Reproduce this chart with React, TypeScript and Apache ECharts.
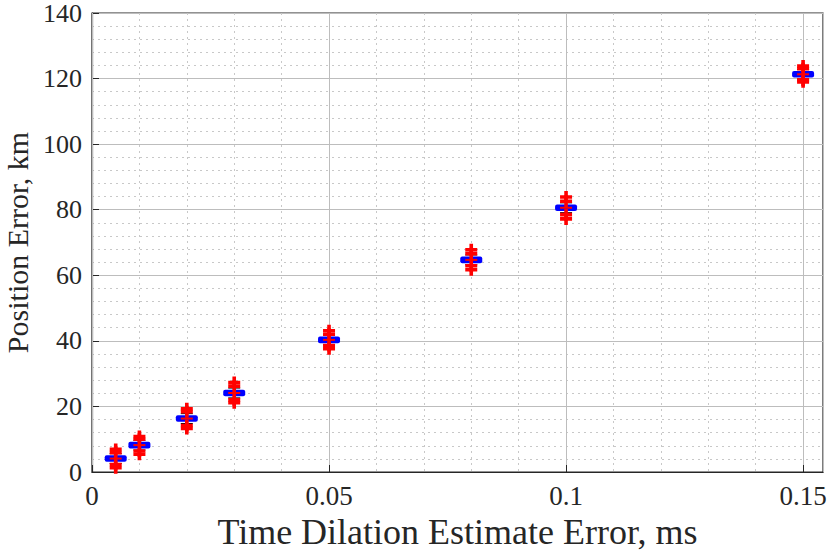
import React, { useEffect, useRef } from "react";
import * as echarts from "echarts";

const xs = [0.005, 0.01, 0.02, 0.03, 0.05, 0.08, 0.1, 0.15];
const medians = [4.1, 8.2, 16.3, 24.1, 40.3, 64.7, 80.6, 121.3];
const q1s = [3.1, 7.2, 15.3, 23.1, 39.3, 63.7, 79.6, 120.3];
const q3s = [5.1, 9.2, 17.3, 25.1, 41.3, 65.7, 81.6, 122.3];
const whiskLow = [2.6, 6.7, 14.8, 22.6, 38.8, 63.2, 79.1, 119.8];
const whiskHigh = [5.6, 9.7, 17.8, 25.6, 41.8, 66.2, 82.1, 122.8];
const outHighA = [5.9, 10.0, 18.4, 26.2, 42.0, 66.6, 82.6, 123.0];
const outHighB = [6.9, 10.8, 19.3, 27.3, 43.1, 67.8, 83.9, 123.8];
const outLowA = [2.3, 6.4, 14.2, 22.0, 38.6, 62.9, 78.5, 119.6];
const outLowB = [1.3, 5.4, 13.3, 21.1, 37.6, 61.7, 77.2, 119.0];

const xTickLabels = ["0", "0.05", "0.1", "0.15"];
const xTickValues = [0, 0.05, 0.1, 0.15];

const FONT = "Liberation Serif";

export default function App() {
  const ref = useRef<HTMLDivElement>(null);
  useEffect(() => {
    if (!ref.current) return;
    document.body.style.margin = "0";
    const chart = echarts.init(ref.current, null, { renderer: "svg" });
    const boxData = xs.map((x, i) => [x, whiskLow[i], q1s[i], medians[i], q3s[i], whiskHigh[i]]);
    const outData: number[][] = [];
    xs.forEach((x, i) => {
      outData.push([x, outHighA[i]], [x, outHighB[i]], [x, outLowA[i]], [x, outLowB[i]]);
    });
    const plus = "path://M3.5,0H6.5V3.5H10V6.5H6.5V10H3.5V6.5H0V3.5H3.5Z";
    chart.setOption({
      animation: false,
      backgroundColor: "#ffffff",
      grid: {
        left: 92,
        right: 7,
        top: 13,
        bottom: 82,
        outerBoundsMode: "none",
        containLabel: false,
        show: true,
        borderColor: "#262626",
        borderWidth: 1.2,
        backgroundColor: "transparent",
      },
      xAxis: [
        {
          type: "value",
          min: 0,
          max: 0.1542,
          interval: 0.05,
          name: "Time Dilation Estimate Error, ms",
          nameLocation: "middle",
          nameGap: 42,
          nameTextStyle: { fontFamily: FONT, fontSize: 36, color: "#262626" },
          axisLine: { show: true, lineStyle: { color: "#262626", width: 1.2 } },
          axisTick: { show: true, inside: true, length: 7, lineStyle: { color: "#262626" } },
          axisLabel: {
            fontFamily: FONT,
            fontSize: 27,
            color: "#262626",
            margin: 10,
            showMaxLabel: false,
            formatter: (v: number) => {
              const idx = xTickValues.findIndex((t) => Math.abs(t - v) < 1e-9);
              return idx >= 0 ? xTickLabels[idx] : "";
            },
          },
          splitLine: { show: true, lineStyle: { color: "#bdbdbd", width: 1, type: "solid" } },
          z: 3,
        },
        {
          type: "value",
          min: 0,
          max: 0.1542,
          interval: 0.01,
          axisLine: { show: false },
          axisTick: { show: false },
          axisLabel: { show: false },
          splitLine: { show: true, lineStyle: { color: "#c8c8c8", width: 1, type: [2, 4] } },
          z: 1,
        },
      ],
      yAxis: {
        type: "value",
        min: 0,
        max: 140,
        interval: 20,
        name: "Position Error, km",
        nameLocation: "middle",
        nameGap: 53,
        nameTextStyle: { fontFamily: FONT, fontSize: 30, color: "#262626", lineHeight: 28 },
        axisLine: { show: true, lineStyle: { color: "#262626", width: 1.2 } },
        axisTick: { show: true, inside: true, length: 7, lineStyle: { color: "#262626" } },
        axisLabel: { fontFamily: FONT, fontSize: 26, color: "#262626", margin: 10, lineHeight: 22 },
        splitLine: { show: true, lineStyle: { color: "#bdbdbd", width: 1 } },
        minorTick: { show: false, splitNumber: 5 },
        minorSplitLine: { show: true, lineStyle: { color: "#c8c8c8", width: 1, type: [2, 4] } },
      },
      series: [
        {
          type: "custom",
          xAxisIndex: 0,
          clip: false,
          z: 5,
          data: boxData,
          renderItem: (params: any, api: any) => {
            const x = api.value(0);
            const lo = api.coord([x, api.value(1)]);
            const q1 = api.coord([x, api.value(2)]);
            const med = api.coord([x, api.value(3)]);
            const q3 = api.coord([x, api.value(4)]);
            const hi = api.coord([x, api.value(5)]);
            const hw = 11;
            const cw = 6;
            return {
              type: "group",
              children: [
                { type: "line", shape: { x1: lo[0], y1: lo[1], x2: hi[0], y2: hi[1] }, style: { stroke: "#000", lineWidth: 1 } },
                { type: "line", shape: { x1: lo[0] - cw, y1: lo[1], x2: lo[0] + cw, y2: lo[1] }, style: { stroke: "#000", lineWidth: 1 } },
                { type: "line", shape: { x1: hi[0] - cw, y1: hi[1], x2: hi[0] + cw, y2: hi[1] }, style: { stroke: "#000", lineWidth: 1 } },
                { type: "rect", shape: { x: q3[0] - hw, y: q3[1], width: hw * 2, height: q1[1] - q3[1], r: 2 }, style: { fill: "#0000ff" } },
                { type: "line", shape: { x1: med[0] - 6, y1: med[1], x2: med[0] + 6, y2: med[1] }, style: { stroke: "#ff0000", lineWidth: 2 } },
              ],
            };
          },
        },
        {
          type: "scatter",
          xAxisIndex: 0,
          clip: false,
          z: 6,
          symbol: plus,
          symbolSize: 12,
          itemStyle: { color: "#ff0000", opacity: 1 },
          data: outData,
        },
      ],
    });
    return () => chart.dispose();
  }, []);
  return <div ref={ref} style={{ width: 830, height: 554 }} />;
}
